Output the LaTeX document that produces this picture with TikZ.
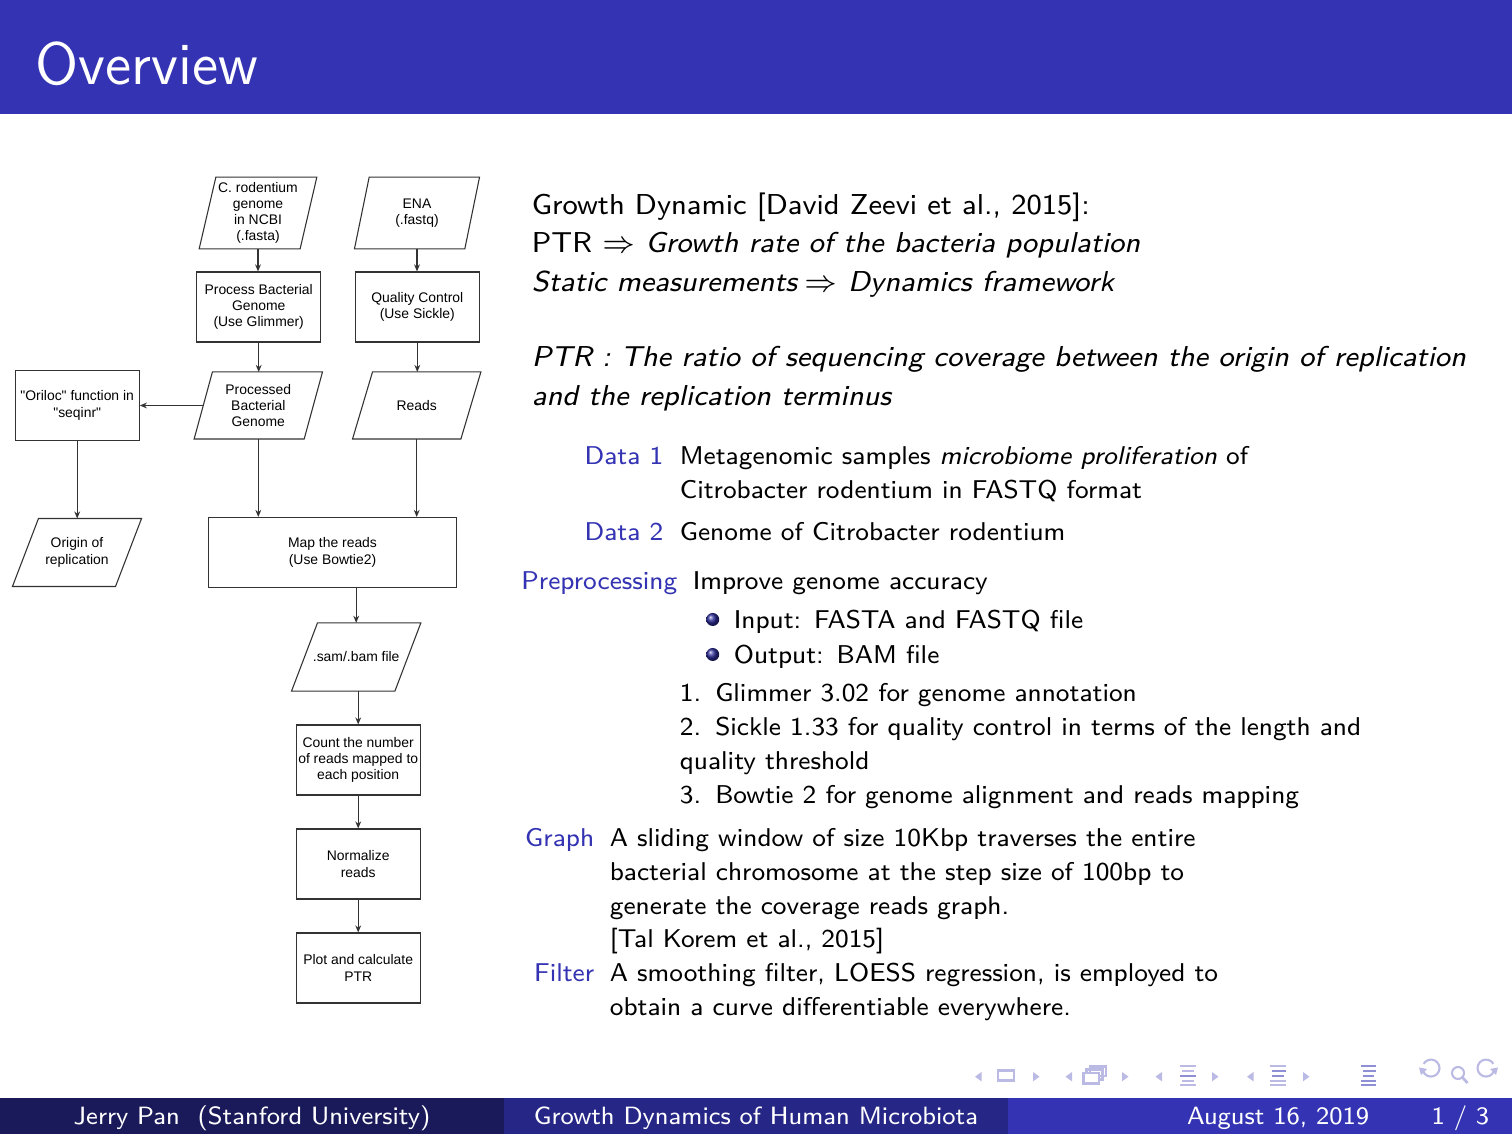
\documentclass[tikz,border=0pt]{standalone}
\usepackage{fontspec}
\newfontfamily\chartfont[Ligatures=TeXOff]{Liberation Sans}
\usetikzlibrary{arrows.meta,calc}
\definecolor{struct}{RGB}{51,51,179}
\definecolor{footmid}{RGB}{38,38,134}
\definecolor{footleft}{RGB}{26,26,90}
\newcommand{\pu}{*0.084656mm}
\newcommand{\bodyfont}{\sffamily\fontsize{6.93}{9}\selectfont}
\newcommand{\descfont}{\sffamily\fontsize{6.2}{8}\selectfont}
\newcommand{\flowfont}{\chartfont\fontsize{3.35}{3.92}\selectfont}
\begin{document}
\begin{tikzpicture}[x=0.084656mm, y=-0.084656mm,
  txt/.style={anchor=base west, inner sep=0, font=\descfont},
  top/.style={anchor=base west, inner sep=0, font=\bodyfont},
  lbl/.style={anchor=base east, inner sep=0, font=\descfont, text=struct},
  foot/.style={anchor=base, inner sep=0, text=white, font=\sffamily\fontsize{6.02}{7}\selectfont},
  outline/.style={draw=black!80, line width=0.26pt, line join=miter},
  proc/.style={outline, minimum width=124\pu, minimum height=70\pu, inner sep=0, align=center, font=\flowfont},
  iobox/.style={draw=none, minimum width=124\pu, minimum height=70\pu, inner sep=0, align=center, font=\flowfont},
  flow/.style={draw=black!80, line width=0.26pt, -{Stealth[length=1.7pt,width=1.4pt]}},
  navc/.style={fill=struct!34, draw=none},
  navl/.style={draw=struct!34, line width=0.5pt}]
\useasboundingbox (0,0) rectangle (1512,1134);
\fill[white] (0,0) rectangle (1512,1134);

% frame title bar
\fill[struct] (0,0) rectangle (1512,114);
\node[anchor=base west, inner sep=0, text=white, font=\sffamily\fontsize{14.4}{17}\selectfont] (title) at (35,85) {Overview};

% ---------- flowchart ----------
\node[iobox, minimum width=116\pu] (ncbi) at (258,213) {C. rodentium\\genome\\in NCBI\\(.fasta)};
\node[iobox, minimum width=123.4\pu] (ena) at (417,213) {ENA\\(.fastq)};
\node[proc] (glim) at (258.7,307) {Process Bacterial\\Genome\\(Use Glimmer)};
\node[proc] (qc) at (417.3,307) {Quality Control\\(Use Sickle)};
\node[iobox, minimum width=126.7\pu, minimum height=65.4\pu] (pbg) at (258.3,405.5) {Processed\\Bacterial\\Genome};
\node[iobox, minimum width=126.7\pu, minimum height=65.4\pu] (reads) at (416.7,405.5) {Reads};
\node[proc, minimum width=124.3\pu] (oriloc) at (77.2,405.5) {"Oriloc" function in\\"seqinr"};
\node[iobox, minimum width=127.4\pu, minimum height=66.3\pu] (origin) at (77,552.5) {Origin of\\replication};
\node[proc, minimum width=248.4\pu] (map) at (332.5,552.5) {Map the reads\\(Use Bowtie2)};
\node[iobox, minimum width=127.7\pu, minimum height=66.7\pu] (sam) at (356.2,657) {.sam/.bam file};
\node[proc] (count) at (358.2,760) {Count the number\\of reads mapped to\\each position};
\node[proc] (norm) at (358.2,864) {Normalize\\reads};
\node[proc] (plot) at (358.2,968) {Plot and calculate\\PTR};

% data (parallelogram) outlines
\foreach \n/\s in {ncbi/16.7, ena/14.7, pbg/18.3, reads/20, origin/26, sam/26}
  \draw[outline] ($(\n.north west)+(\s,0)$) -- (\n.north east)
     -- ($(\n.south east)-(\s,0)$) -- (\n.south west) -- cycle;

% connectors
\draw[flow] (ncbi.south) -- (ncbi.south |- glim.north);
\draw[flow] (ena.south) -- (ena.south |- qc.north);
\draw[flow] (glim.south) -- (glim.south |- pbg.north);
\draw[flow] (qc.south) -- (qc.south |- reads.north);
\draw[flow] ($(pbg.west)+(9.15,0)$) -- (oriloc.east);
\draw[flow] (oriloc.south) -- (oriloc.south |- origin.north);
\draw[flow] (pbg.south) -- (pbg.south |- map.north);
\draw[flow] (reads.south) -- (reads.south |- map.north);
\draw[flow] (sam.north |- map.south) -- (sam.north);
\draw[flow] (sam.south -| count.north) -- (count.north);
\draw[flow] (count.south) -- (norm.north);
\draw[flow] (norm.south) -- (plot.north);

% ---------- text column ----------
\node[top] (l1) at (531,215) {Growth Dynamic [David Zeevi et al., 2015]:};
\node[top] (l2) at (531,253) {PTR $\Rightarrow$ \textit{Growth rate of the bacteria population}};
\node[top] (l3) at (531,292) {\textit{Static measurements}\hspace{0.22em}$\Rightarrow$ \textit{Dynamics framework}};
\node[top] (l4) at (531,367) {\textit{PTR : The ratio of sequencing coverage between the origin of replication}};
\node[top] (l5) at (531,406) {\textit{and the replication terminus}};

\node[lbl] (d1) at (664,465) {Data 1};
\node[txt] (d1a) at (679,465) {Metagenomic samples \textit{microbiome proliferation} of};
\node[txt] (d1b) at (679,499) {Citrobacter rodentium in FASTQ format};
\node[lbl] (d2) at (664,541) {Data 2};
\node[txt] (d2a) at (679,541) {Genome of Citrobacter rodentium};

\node[lbl] (pp) at (678,590) {Preprocessing};
\node[txt] (ppa) at (692,590) {Improve genome accuracy};
\shade[ball color=struct!85!black] (712.7,619.5) circle [radius=6.5];
\shade[ball color=struct!85!black] (712.7,654.5) circle [radius=6.5];
\node[txt] (in) at (733,628.5) {Input:\hspace{0.5em}FASTA and FASTQ file};
\node[txt] (out) at (733,663.5) {Output:\hspace{0.5em}BAM file};
\node[txt] (s1) at (679,702) {1.\hspace{0.55em}Glimmer 3.02 for genome annotation};
\node[txt] (s2) at (679,736) {2.\hspace{0.55em}Sickle 1.33 for quality control in terms of the length and};
\node[txt] (s2b) at (679,770) {quality threshold};
\node[txt] (s3) at (679,804) {3.\hspace{0.55em}Bowtie 2 for genome alignment and reads mapping};

\node[lbl] (gr) at (595,847) {Graph};
\node[txt] (gr1) at (609,847) {A sliding window of size 10Kbp traverses the entire};
\node[txt] (gr2) at (609,881) {bacterial chromosome at the step size of 100bp to};
\node[txt] (gr3) at (609,915) {generate the coverage reads graph.};
\node[txt] (gr4) at (609,948) {[Tal Korem et al., 2015]};
\node[lbl] (fi) at (595,982) {Filter};
\node[txt] (fi1) at (609,982) {A smoothing filter, LOESS regression, is employed to};
\node[txt] (fi2) at (609,1016) {obtain a curve differentiable everywhere.};

% ---------- navigation symbols ----------
\fill[navc] (981.5,1072) -- (975,1076.7) -- (981.5,1081.4) -- cycle;
\draw[navl] (998.3,1070.5) rectangle (1014.3,1080.5);
\fill[navc] (1033,1072) -- (1039.5,1076.7) -- (1033,1081.4) -- cycle;
\fill[navc] (1072,1072) -- (1065.5,1076.7) -- (1072,1081.4) -- cycle;
\draw[navl] (1090,1066.5) rectangle (1106,1076);
\draw[navl] (1086.5,1069.5) rectangle (1102.5,1079.5);
\fill[white] (1083.5,1073) rectangle (1099,1083.5);
\draw[navl] (1083.5,1073) rectangle (1099,1083.5);
\fill[navc] (1122,1072) -- (1128.5,1076.7) -- (1122,1081.4) -- cycle;
\fill[navc] (1162,1072) -- (1155.5,1076.7) -- (1162,1081.4) -- cycle;
\foreach \yy/\xa/\xb in {1066/1180/1196, 1071/1182/1194, 1076/1180/1196, 1081/1182/1194, 1085/1180/1196}
  \draw[navl] (\xa,\yy) -- (\xb,\yy);
\draw[draw=struct!55, line width=0.6pt] (1180,1076) -- (1196,1076);
\fill[navc] (1212,1072) -- (1218.5,1076.7) -- (1212,1081.4) -- cycle;
\fill[navc] (1253.5,1072) -- (1247,1076.7) -- (1253.5,1081.4) -- cycle;
\foreach \yy/\xa/\xb in {1066/1270/1286, 1071/1272/1286, 1076/1272/1284, 1081/1270/1286, 1085/1270/1286}
  \draw[navl] (\xa,\yy) -- (\xb,\yy);
\draw[draw=struct!55, line width=0.6pt] (1272,1071) -- (1286,1071);
\draw[draw=struct!55, line width=0.6pt] (1272,1076) -- (1284,1076);
\fill[navc] (1303,1072) -- (1309.5,1076.7) -- (1303,1081.4) -- cycle;
\foreach \yy/\xa/\xb in {1066/1361/1376, 1071/1363/1376, 1076/1363/1374, 1081/1361/1376, 1085/1361/1376}
  \draw[draw=struct!55, line width=0.6pt] (\xa,\yy) -- (\xb,\yy);
% back, search, forward
\draw[navl] (1423,1071) arc[start angle=160, end angle=-150, radius=8.5];
\fill[navc] (1419,1067.5) -- (1427,1069) -- (1421,1075) -- cycle;
\draw[navl] (1458,1073) circle [radius=6];
\draw[navl, line width=0.65pt] (1462.5,1077.5) -- (1467.5,1083);
\draw[navl] (1494,1071) arc[start angle=20, end angle=330, radius=8.5];
\fill[navc] (1498,1067.5) -- (1490,1069) -- (1496,1075) -- cycle;

% ---------- footline ----------
\fill[footleft] (0,1098) rectangle (504,1134);
\fill[footmid] (504,1098) rectangle (1008,1134);
\fill[struct] (1008,1098) rectangle (1512,1134);
\node[foot] (author) at (252,1124.5) {Jerry Pan~~(Stanford University)};
\node[foot] (talk) at (756,1124.5) {Growth Dynamics of Human Microbiota};
\node[foot, anchor=base east] (date) at (1370,1124.5) {August 16, 2019};
\node[foot, anchor=base east] (page) at (1490,1124.5) {1 / 3};
\end{tikzpicture}
\end{document}
